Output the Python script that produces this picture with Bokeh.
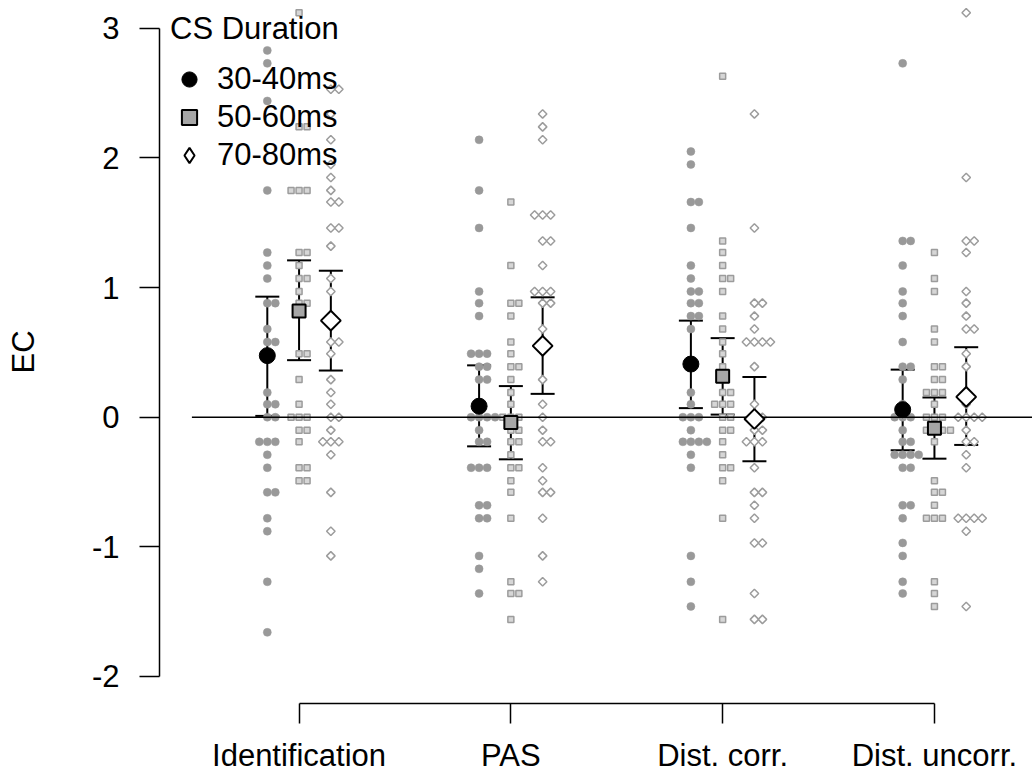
from collections import Counter, defaultdict
import math

from bokeh.plotting import figure
from bokeh.models import (Range1d, FixedTicker, ColumnDataSource, Whisker, TeeHead,
                          Legend, LegendItem)
from bokeh.embed import file_html
from bokeh.resources import INLINE

# ---- data -------------------------------------------------------------
conditions = ["Identification", "PAS", "Dist. corr.", "Dist. uncorr."]
durations = ["30-40ms", "50-60ms", "70-80ms"]

# individual EC scores, per condition and CS duration
ident_30 = [2.83, 2.73, 2.44, 1.75, 1.27, 1.17, 1.07, 0.88, 0.88, 0.68, 0.58, 0.58, 0.19, 0.10,
            0.10, 0, 0, -0.19, -0.19, -0.19, -0.29, -0.39, -0.58, -0.58, -0.78, -0.88, -1.27, -1.66]
ident_50 = [3.12, 2.24, 2.24, 1.75, 1.75, 1.75, 1.27, 1.27, 1.17, 1.07, 1.07, 0.97, 0.88, 0.88,
            0.49, 0.49, 0.29, 0.10, 0, 0, 0, -0.10, -0.10, -0.19, -0.39, -0.39, -0.49, -0.49]
ident_70 = [2.53, 2.53, 2.34, 2.14, 1.95, 1.85, 1.75, 1.66, 1.66, 1.46, 1.46, 1.32, 1.07, 0.97,
            0.58, 0.58, 0.49, 0.29, 0.19, 0.10, 0, 0, -0.10, -0.19, -0.19, -0.19, -0.29, -0.58,
            -0.88, -1.07]

pas_30 = [2.14, 1.75, 1.46, 0.97, 0.88, 0.78, 0.49, 0.49, 0.49, 0.39, 0.39, 0.29, 0.29, 0, 0, 0,
          0, -0.10, -0.19, -0.19, -0.39, -0.39, -0.39, -0.68, -0.68, -0.78, -0.78, -1.07, -1.17,
          -1.36]
pas_50 = [1.66, 1.17, 0.88, 0.88, 0.78, 0.58, 0.49, 0.39, 0.39, 0.29, 0.19, 0.10, 0, 0, 0, -0.10,
          -0.10, -0.19, -0.19, -0.29, -0.39, -0.39, -0.49, -0.58, -0.78, -1.27, -1.36, -1.36,
          -1.56]
pas_70 = [2.34, 2.24, 2.14, 1.56, 1.56, 1.56, 1.36, 1.36, 1.17, 0.97, 0.97, 0.97, 0.88, 0.88,
          0.68, 0.58, 0.29, 0.10, 0, -0.10, -0.19, -0.19, -0.39, -0.49, -0.58, -0.58, -0.78,
          -1.07, -1.27]

corr_30 = [2.05, 1.95, 1.66, 1.66, 1.46, 1.17, 1.07, 0.97, 0.97, 0.88, 0.88, 0.78, 0.78, 0.68,
           0.19, 0.10, 0, 0, 0, -0.10, -0.19, -0.19, -0.19, -0.19, -0.29, -0.39, -1.07, -1.27,
           -1.46]
corr_50 = [2.63, 1.36, 1.27, 1.17, 1.07, 1.07, 0.97, 0.78, 0.68, 0.58, 0.49, 0.39, 0.29, 0.19,
           0.19, 0.10, 0.10, 0.10, 0, 0, -0.10, -0.10, -0.19, -0.29, -0.39, -0.39, -0.49, -0.78,
           -1.56]
corr_70 = [2.34, 1.46, 0.88, 0.88, 0.78, 0.68, 0.58, 0.58, 0.58, 0.58, 0.39, 0.10, 0, 0, -0.10,
           -0.10, -0.19, -0.19, -0.19, -0.39, -0.58, -0.58, -0.68, -0.78, -0.97, -0.97, -1.36,
           -1.56, -1.56]

uncorr_30 = [2.73, 1.36, 1.36, 1.17, 0.97, 0.88, 0.78, 0.58, 0.39, 0.39, 0.29, 0.10, 0, 0, 0,
             -0.10, -0.19, -0.19, -0.29, -0.29, -0.29, -0.29, -0.39, -0.39, -0.68, -0.68, -0.78,
             -0.97, -1.07, -1.27, -1.36]
uncorr_50 = [1.27, 1.07, 0.97, 0.68, 0.58, 0.39, 0.39, 0.29, 0.29, 0.19, 0.19, 0.19, 0.10, 0, 0,
             0, -0.10, -0.10, -0.10, -0.10, -0.19, -0.49, -0.58, -0.58, -0.68, -0.78, -0.78,
             -0.78, -1.27, -1.36, -1.46]
uncorr_70 = [3.12, 1.85, 1.36, 1.36, 1.27, 0.97, 0.88, 0.78, 0.68, 0.68, 0.49, 0.39, 0.19, 0.10,
             0, 0, 0, 0, -0.10, -0.19, -0.19, -0.29, -0.39, -0.78, -0.78, -0.78, -0.78, -0.88,
             -1.46]

# condition means with 95% CI, one entry per condition
mean_30 = [0.475, 0.085, 0.41, 0.058]
lower_30 = [0.01, -0.225, 0.07, -0.255]
upper_30 = [0.93, 0.40, 0.745, 0.367]

mean_50 = [0.82, -0.04, 0.316, -0.086]
lower_50 = [0.44, -0.325, 0.02, -0.32]
upper_50 = [1.21, 0.24, 0.61, 0.152]

mean_70 = [0.745, 0.55, -0.014, 0.157]
lower_70 = [0.36, 0.18, -0.34, -0.214]
upper_70 = [1.13, 0.925, 0.31, 0.54]

y_ticks = [-2, -1, 0, 1, 2, 3]

# ---- layout constants ---------------------------------------------------
FONT = "Liberation Sans"
FSIZE = "31px"
DODGE = [-0.15, 0.0, 0.15]      # horizontal shift of each duration within a condition
SWARM_STEP = 0.0378             # spacing between tied points
REGION_LEFT = 0.494             # left edge of the plotting region (reference line start)
X_LO, X_HI = 0.341, 4.463
Y_LO, Y_HI = -2.209, 3.215


def swarm_x(values, centre):
    """Spread tied values side by side around a centre position."""
    counts = Counter(values)
    seen = defaultdict(int)
    xs = []
    for v in values:
        n = counts[v]
        k = seen[v]
        seen[v] += 1
        xs.append(centre + (k - (n - 1) // 2) * SWARM_STEP)
    return xs


def raw_source(series_by_condition, d):
    xs, ys = [], []
    for ci, vals in enumerate(series_by_condition):
        xs += swarm_x(vals, ci + 1 + DODGE[d])
        ys += vals
    return ColumnDataSource(dict(x=xs, y=ys))


p = figure(width=1032, height=776, x_range=Range1d(X_LO, X_HI), y_range=Range1d(Y_LO, Y_HI),
           output_backend="svg", toolbar_location=None,
           min_border_left=159, min_border_right=0, min_border_top=0, min_border_bottom=73)
p.outline_line_color = None
p.grid.visible = False
p.background_fill_color = "white"
p.border_fill_color = "white"

# ---- raw scores --------------------------------------------------------
src30 = raw_source([ident_30, pas_30, corr_30, uncorr_30], 0)
src50 = raw_source([ident_50, pas_50, corr_50, uncorr_50], 1)
src70 = raw_source([ident_70, pas_70, corr_70, uncorr_70], 2)

p.scatter("x", "y", source=src30, marker="circle", size=8,
          fill_color="#999999", line_color="#999999", line_width=0.5)
p.scatter("x", "y", source=src50, marker="square", size=6,
          fill_color="#d6d6d6", line_color="#9c9c9c", line_width=1.5)
p.scatter("x", "y", source=src70, marker="square", angle=math.pi / 4, size=6,
          fill_color="white", line_color="#9c9c9c", line_width=1.5)

# ---- zero reference line -----------------------------------------------
p.segment(x0=[REGION_LEFT], y0=[0], x1=[X_HI], y1=[0], line_color="black", line_width=1.5)

# ---- means with confidence intervals -----------------------------------
mean_specs = [
    (mean_30, lower_30, upper_30, dict(marker="circle", size=16, fill_color="black",
                                        line_color="black", line_width=1)),
    (mean_50, lower_50, upper_50, dict(marker="square", size=13, fill_color="#a6a6a6",
                                        line_color="black", line_width=2)),
    (mean_70, lower_70, upper_70, dict(marker="square", angle=math.pi / 4, size=14,
                                        fill_color="white", line_color="black", line_width=2)),
]

legend_items = []
for d, (m, lo, hi, style) in enumerate(mean_specs):
    xs = [ci + 1 + DODGE[d] for ci in range(len(conditions))]
    src = ColumnDataSource(dict(x=xs, mean=m, lower=lo, upper=hi))
    p.add_layout(Whisker(source=src, base="x", lower="lower", upper="upper", dimension="height",
                         line_color="black", line_width=2,
                         lower_head=TeeHead(size=24, line_color="black", line_width=2),
                         upper_head=TeeHead(size=24, line_color="black", line_width=2)))
    key = None
    if style.get("angle"):
        # legend keys ignore marker rotation: an upright diamond sits under the
        # rotated square (fully covered by it) and serves as the legend key
        key = p.scatter("x", "mean", source=src, marker="diamond", size=11,
                        fill_color="white", line_color="black", line_width=2)
    r = p.scatter("x", "mean", source=src, **style)
    legend_items.append(LegendItem(label=durations[d], renderers=[key or r]))

legend = Legend(items=legend_items, title="CS Duration", location="top_left",
                margin=11, padding=0, spacing=0, glyph_width=38, glyph_height=38,
                label_height=38, label_standoff=9, title_standoff=13,
                border_line_color=None, background_fill_alpha=0,
                label_text_font=FONT, label_text_font_size=FSIZE, label_text_color="black",
                title_text_font=FONT, title_text_font_size=FSIZE, title_text_font_style="normal",
                title_text_color="black")
p.add_layout(legend)

# ---- axes ----------------------------------------------------------------
xa = p.xaxis[0]
xa.ticker = FixedTicker(ticks=[1, 2, 3, 4])
xa.major_label_overrides = {i + 1: c for i, c in enumerate(conditions)}
xa.bounds = (1, 4)

ya = p.yaxis[0]
ya.ticker = FixedTicker(ticks=y_ticks)
ya.major_label_overrides = {t: str(t) for t in y_ticks}
ya.bounds = (min(y_ticks), max(y_ticks))
ya.axis_label = "EC"
ya.axis_label_text_font = FONT
ya.axis_label_text_font_size = FSIZE
ya.axis_label_text_font_style = "normal"
ya.axis_label_text_color = "black"
ya.axis_label_standoff = 48

for ax in (xa, ya):
    ax.axis_line_color = "black"
    ax.axis_line_width = 1.5
    ax.major_tick_line_color = "black"
    ax.major_tick_line_width = 1.5
    ax.major_tick_out = 20
    ax.major_tick_in = 0
    ax.minor_tick_line_color = None
    ax.major_label_text_font = FONT
    ax.major_label_text_font_size = FSIZE
    ax.major_label_text_color = "black"
xa.major_label_standoff = 14
ya.major_label_standoff = 20

open("out.html", "w").write(file_html(p, INLINE))
